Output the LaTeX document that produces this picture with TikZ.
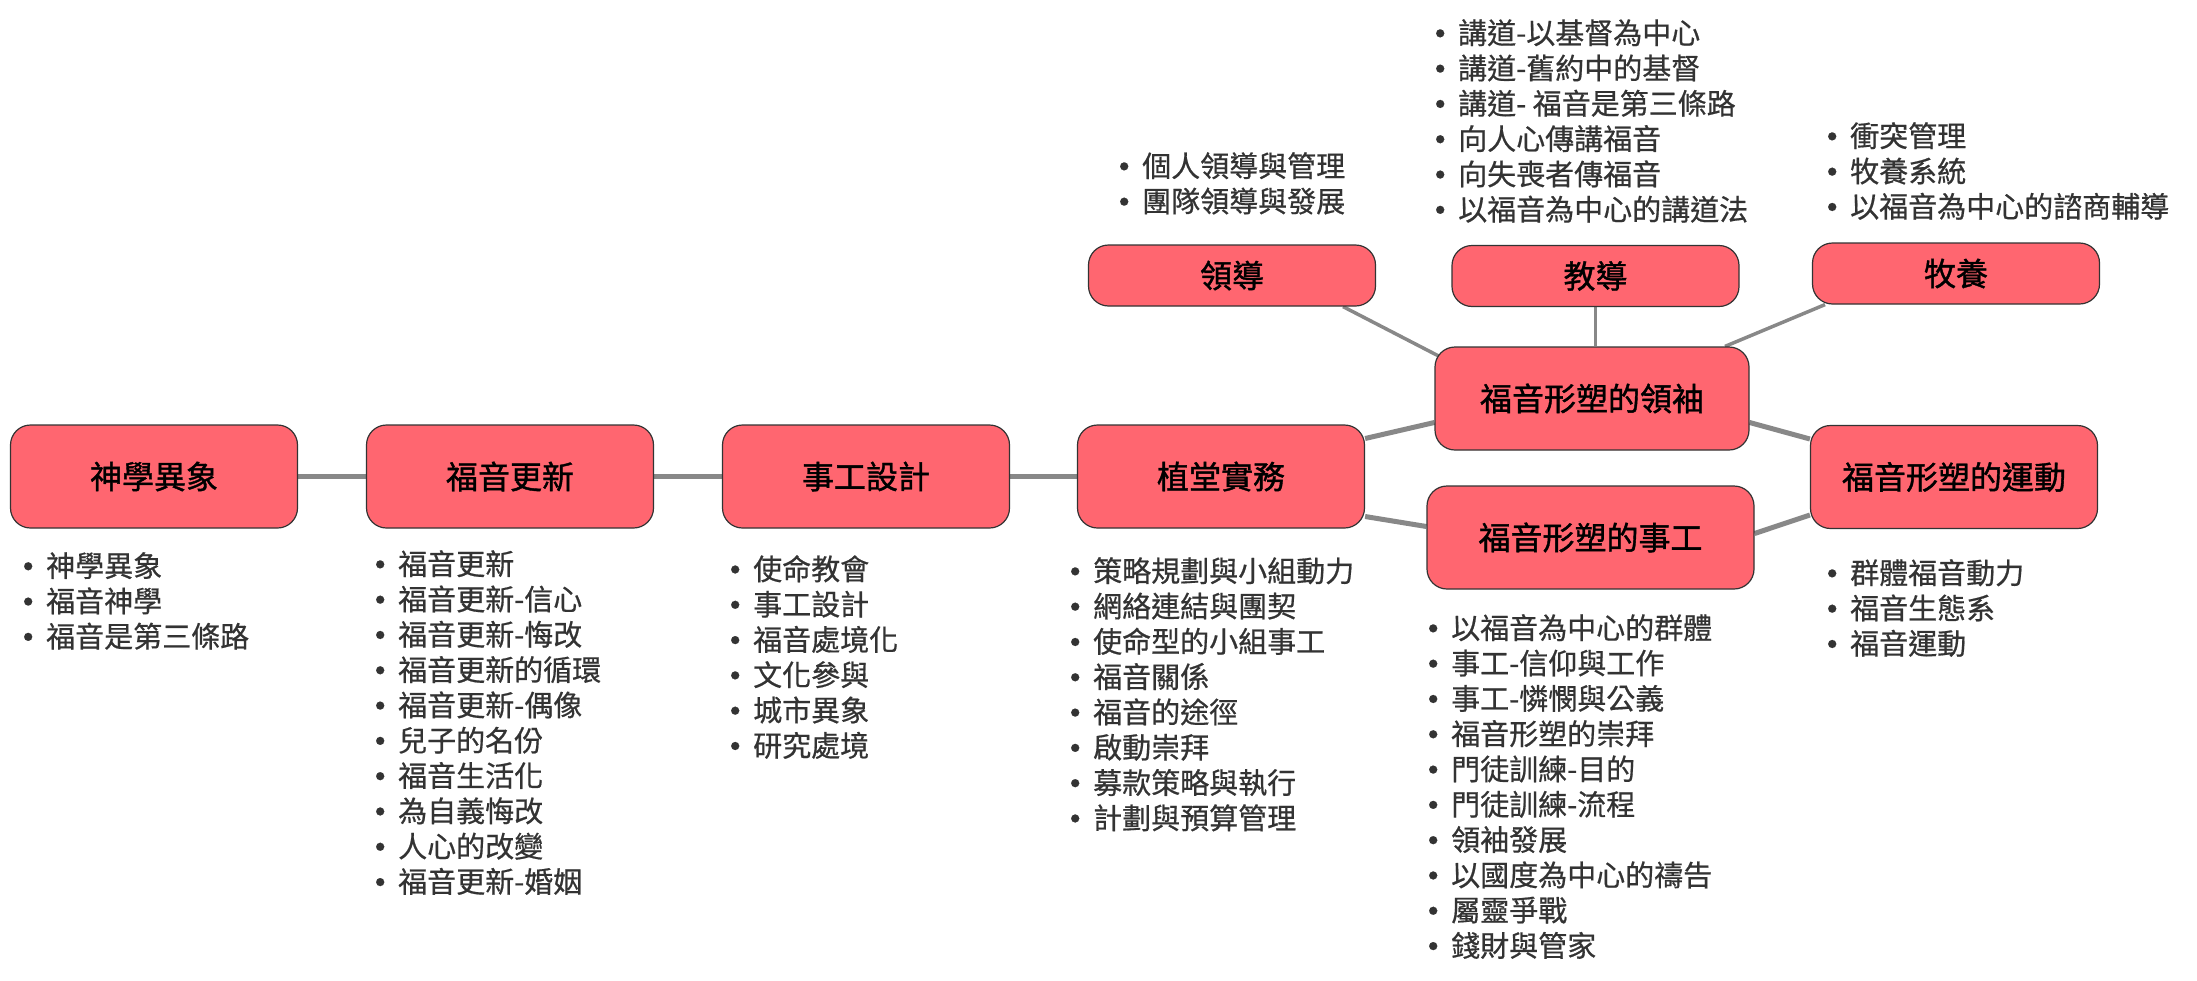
\documentclass[tikz,border=0pt]{standalone}
\usepackage{fontspec}
\usepackage{tikz}
\usetikzlibrary{backgrounds}
\newfontfamily\cjk{Noto Sans CJK TC}[FakeBold=0.6]
\newfontfamily\cjkbox{Noto Sans CJK TC}[FakeBold=1.2]
\definecolor{boxred}{HTML}{FF6670}
\definecolor{boxedge}{HTML}{333333}
\definecolor{linegray}{HTML}{888888}
\definecolor{itemgray}{HTML}{333333}
\newcommand{\bul}{\llap{\makebox[36pt][c]{\fontsize{9}{9}\selectfont\raisebox{7pt}{●}}}}

\begin{document}
\begin{tikzpicture}[x=1pt,y=-1pt,
  box/.style={draw=boxedge,line width=1.2pt,fill=boxred,rounded corners=20pt,
    minimum width=287pt,minimum height=103pt,inner sep=0pt,
    font=\cjkbox\fontsize{32}{38}\selectfont},
  topbox/.style={box,minimum height=61pt},
  items/.style={anchor=north west,inner sep=0pt,align=left,text=itemgray,
    font=\cjk\fontsize{29}{35.3}\selectfont},
  link/.style={draw=linegray,line width=5pt},
  toplink/.style={draw=linegray,line width=3.5pt}]
\useasboundingbox (0,0) rectangle (2197,980);

% main row
\node[box] (theo) at (154,476.5) {神學異象};
\node[box] (renew) at (510,476.5) {福音更新};
\node[box] (design) at (866,476.5) {事工設計};
\node[box] (plant) at (1221,476.5) {植堂實務};
\node[box,minimum width=314pt] (leader) at (1592,398.5) {福音形塑的領袖};
\node[box,minimum width=327pt] (ministry) at (1590.5,537.5) {福音形塑的事工};
\node[box] (move) at (1954,477) {福音形塑的運動};
\node[topbox] (lead) at (1232,275.5) {領導};
\node[topbox] (teach) at (1595.5,276) {教導};
\node[topbox] (pastor) at (1956,273.5) {牧養};

% lists
\node[items] (theolist) at (46,552) {\bul 神學異象\\ \bul 福音神學\\ \bul 福音是第三條路};
\node[items] (renewlist) at (398,550) {\bul 福音更新\\ \bul 福音更新-信心\\ \bul 福音更新-悔改\\
  \bul 福音更新的循環\\ \bul 福音更新-偶像\\ \bul 兒子的名份\\ \bul 福音生活化\\
  \bul 為自義悔改\\ \bul 人心的改變\\ \bul 福音更新-婚姻};
\node[items] (designlist) at (753,555) {\bul 使命教會\\ \bul 事工設計\\ \bul 福音處境化\\
  \bul 文化參與\\ \bul 城市異象\\ \bul 研究處境};
\node[items] (plantlist) at (1093,557) {\bul 策略規劃與小組動力\\ \bul 網絡連結與團契\\
  \bul 使命型的小組事工\\ \bul 福音關係\\ \bul 福音的途徑\\ \bul 啟動崇拜\\
  \bul 募款策略與執行\\ \bul 計劃與預算管理};
\node[items] (ministrylist) at (1451,614) {\bul 以福音為中心的群體\\ \bul 事工-信仰與工作\\
  \bul 事工-憐憫與公義\\ \bul 福音形塑的崇拜\\ \bul 門徒訓練-目的\\ \bul 門徒訓練-流程\\
  \bul 領袖發展\\ \bul 以國度為中心的禱告\\ \bul 屬靈爭戰\\ \bul 錢財與管家};
\node[items] (movelist) at (1850,559) {\bul 群體福音動力\\ \bul 福音生態系\\ \bul 福音運動};
\node[items] (leadlist) at (1142,152) {\bul 個人領導與管理\\ \bul 團隊領導與發展};
\node[items] (teachlist) at (1458,19) {\bul 講道-以基督為中心\\ \bul 講道-舊約中的基督\\
  \bul 講道- 福音是第三條路\\ \bul 向人心傳講福音\\ \bul 向失喪者傳福音\\
  \bul 以福音為中心的講道法};
\node[items] (pastorlist) at (1850,122) {\bul 衝突管理\\ \bul 牧養系統\\ \bul 以福音為中心的諮商輔導};

% connectors
\begin{scope}[on background layer]
\draw[link] (theo) -- (renew);
\draw[link] (renew) -- (design);
\draw[link] (design) -- (plant);
\draw[link] ([yshift=38]plant.east) -- ([yshift=-24]leader.west);
\draw[link] ([yshift=-40]plant.east) -- ([yshift=11]ministry.west);
\draw[link] ([yshift=-24]leader.east) -- ([yshift=38]move.west);
\draw[link] ([yshift=4]ministry.east) -- ([yshift=-38]move.west);
\draw[toplink] ([xshift=111]lead.south) -- ([xshift=5,yshift=-10]leader.north west);
\draw[toplink] (teach.south) -- (teach.south |- leader.north);
\draw[toplink] ([xshift=-131]pastor.south) -- ([xshift=133]leader.north);
\end{scope}
\end{tikzpicture}
\end{document}
